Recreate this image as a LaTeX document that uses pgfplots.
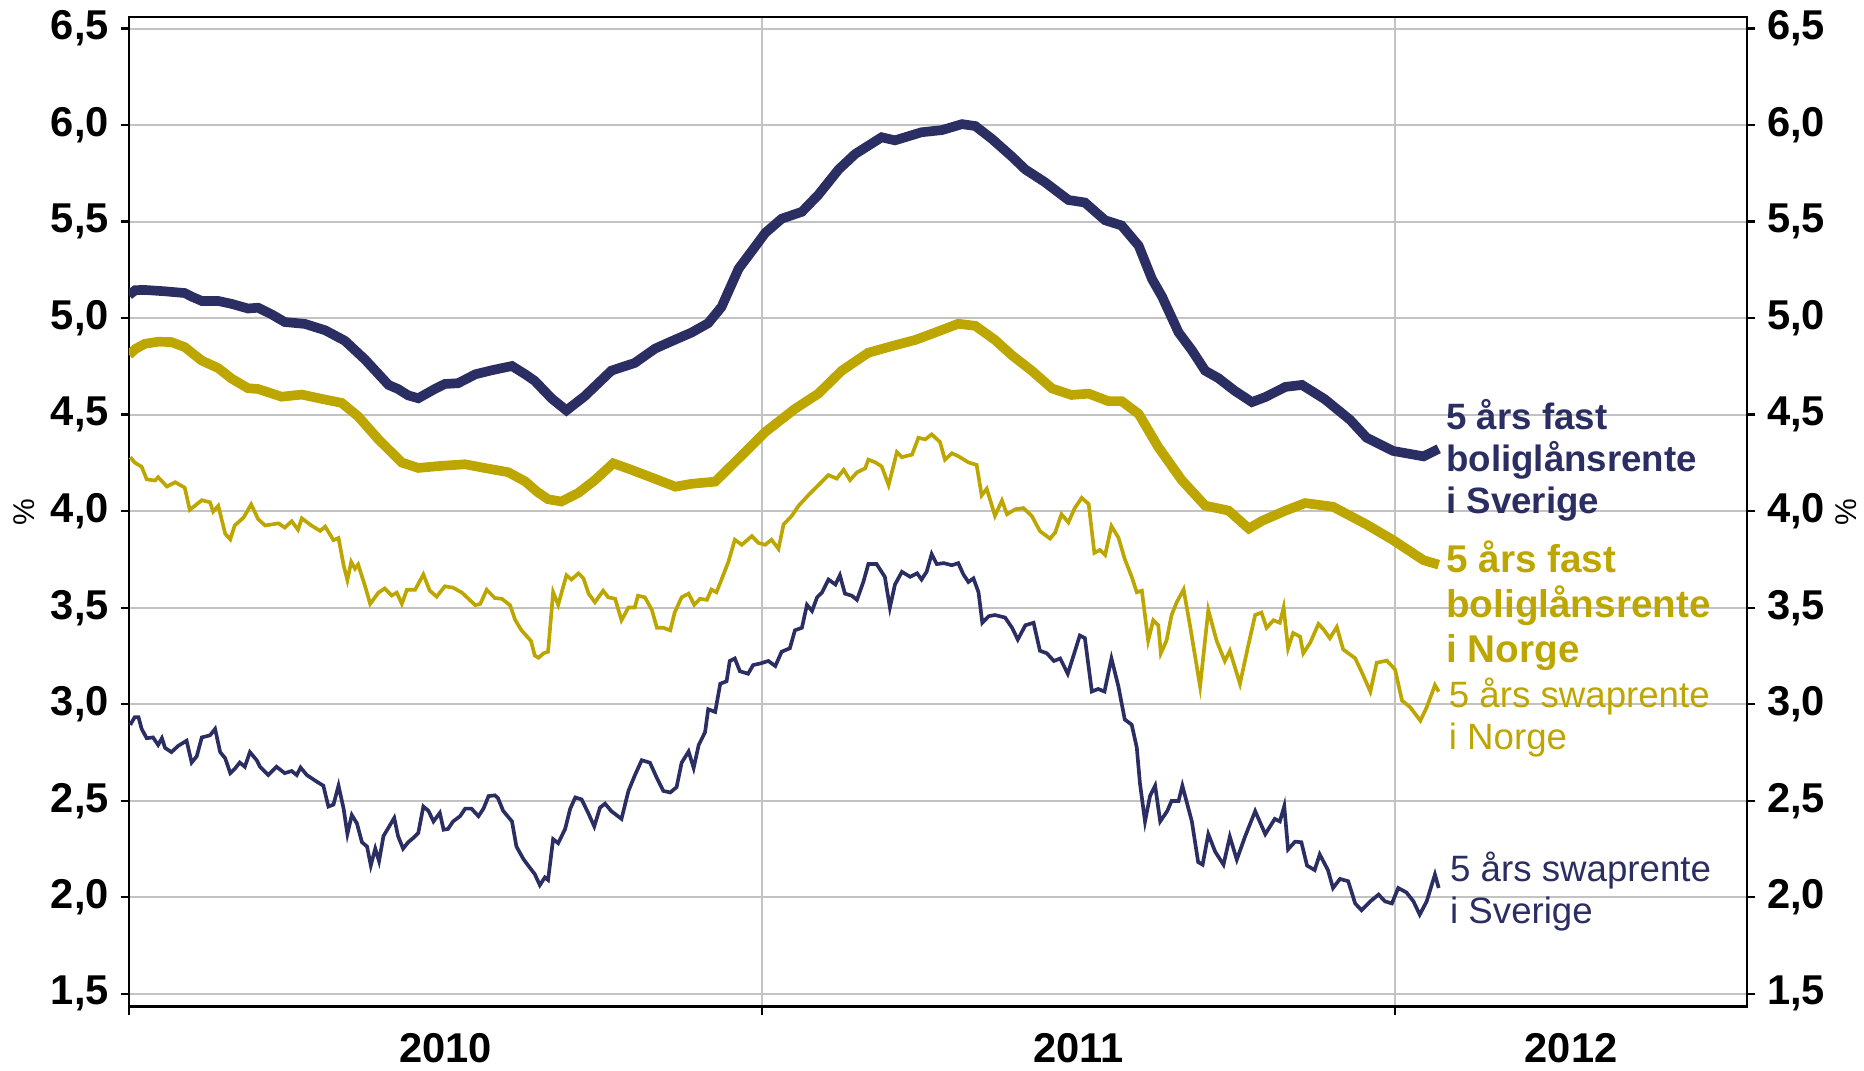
\documentclass[border=0pt]{standalone}
\usepackage{fontspec}
\setmainfont{Liberation Sans}
\usepackage{pgfplots}
\usepackage{pgfplotstable}
\pgfplotsset{compat=1.18}

\definecolor{navy}{RGB}{43,46,98}
\definecolor{gold}{RGB}{190,166,0}
\definecolor{gridgray}{RGB}{195,195,195}

% 5 års fast boliglånsrente i Sverige
\pgfplotstableread{
x y
2010.000 5.12
2010.010 5.145
2010.025 5.146
2010.057 5.139
2010.088 5.13
2010.100 5.11
2010.115 5.089
2010.141 5.089
2010.162 5.074
2010.188 5.05
2010.204 5.054
2010.225 5.02
2010.246 4.98
2010.278 4.97
2010.310 4.937
2010.341 4.883
2010.373 4.785
2010.410 4.654
2010.425 4.633
2010.441 4.60
2010.457 4.585
2010.483 4.633
2010.499 4.659
2010.520 4.663
2010.547 4.709
2010.573 4.73
2010.605 4.752
2010.626 4.709
2010.641 4.675
2010.668 4.583
2010.691 4.522
2010.720 4.596
2010.762 4.728
2010.799 4.768
2010.831 4.842
2010.852 4.873
2010.889 4.926
2010.915 4.974
2010.936 5.058
2010.963 5.256
2010.984 5.348
2011.005 5.441
2011.031 5.515
2011.063 5.551
2011.089 5.639
2011.121 5.77
2011.147 5.85
2011.189 5.937
2011.210 5.921
2011.252 5.963
2011.284 5.974
2011.316 6.005
2011.337 5.995
2011.363 5.929
2011.395 5.836
2011.416 5.77
2011.447 5.704
2011.484 5.612
2011.510 5.599
2011.542 5.507
2011.568 5.48
2011.595 5.375
2011.616 5.203
2011.632 5.111
2011.658 4.926
2011.679 4.834
2011.700 4.728
2011.721 4.689
2011.747 4.623
2011.774 4.565
2011.795 4.591
2011.827 4.644
2011.853 4.654
2011.889 4.58
2011.929 4.473
2011.955 4.381
2011.997 4.312
2012.045 4.284
2012.069 4.323
}\semort

% 5 års fast boliglånsrente i Norge
\pgfplotstableread{
x y
2010.000 4.81
2010.010 4.84
2010.025 4.867
2010.046 4.878
2010.067 4.876
2010.088 4.85
2010.115 4.78
2010.141 4.741
2010.162 4.687
2010.188 4.637
2010.204 4.633
2010.241 4.593
2010.273 4.604
2010.310 4.578
2010.336 4.561
2010.362 4.491
2010.394 4.372
2010.431 4.252
2010.457 4.224
2010.494 4.235
2010.531 4.243
2010.568 4.22
2010.599 4.202
2010.626 4.154
2010.645 4.10
2010.662 4.062
2010.683 4.05
2010.710 4.095
2010.736 4.161
2010.765 4.248
2010.794 4.214
2010.826 4.174
2010.863 4.127
2010.889 4.142
2010.926 4.153
2010.957 4.253
2011.005 4.41
2011.052 4.53
2011.089 4.609
2011.126 4.728
2011.168 4.821
2011.205 4.855
2011.242 4.887
2011.274 4.926
2011.310 4.971
2011.337 4.96
2011.368 4.887
2011.395 4.807
2011.426 4.728
2011.458 4.636
2011.489 4.602
2011.516 4.609
2011.547 4.57
2011.568 4.57
2011.595 4.504
2011.626 4.332
2011.663 4.161
2011.700 4.029
2011.737 4.003
2011.769 3.91
2011.790 3.95
2011.827 4.003
2011.858 4.042
2011.902 4.023
2011.955 3.931
2011.997 3.85
2012.045 3.746
2012.069 3.723
}\nomort

% 5 års swaprente i Norge
\pgfplotstableread{
x y
2010.002 4.28
2010.009 4.252
2010.020 4.23
2010.028 4.165
2010.041 4.159
2010.046 4.176
2010.060 4.128
2010.073 4.15
2010.088 4.122
2010.096 4.007
2010.115 4.057
2010.128 4.046
2010.133 3.998
2010.141 4.028
2010.152 3.883
2010.160 3.854
2010.167 3.926
2010.181 3.967
2010.193 4.035
2010.204 3.959
2010.215 3.926
2010.236 3.937
2010.246 3.915
2010.257 3.948
2010.267 3.904
2010.273 3.963
2010.288 3.926
2010.302 3.898
2010.310 3.92
2010.323 3.85
2010.331 3.861
2010.339 3.72
2010.345 3.643
2010.351 3.737
2010.357 3.702
2010.362 3.724
2010.373 3.611
2010.381 3.52
2010.394 3.578
2010.404 3.60
2010.415 3.563
2010.423 3.578
2010.431 3.52
2010.439 3.593
2010.452 3.593
2010.465 3.672
2010.475 3.589
2010.486 3.557
2010.499 3.611
2010.512 3.604
2010.526 3.578
2010.547 3.513
2010.555 3.52
2010.565 3.593
2010.578 3.55
2010.589 3.546
2010.602 3.513
2010.610 3.437
2010.620 3.383
2010.628 3.354
2010.635 3.328
2010.641 3.252
2010.647 3.241
2010.655 3.264
2010.662 3.272
2010.670 3.58
2010.678 3.515
2010.691 3.668
2010.699 3.646
2010.710 3.678
2010.718 3.652
2010.726 3.573
2010.736 3.528
2010.749 3.588
2010.757 3.554
2010.768 3.546
2010.778 3.435
2010.789 3.501
2010.799 3.501
2010.804 3.562
2010.815 3.554
2010.826 3.488
2010.834 3.396
2010.844 3.396
2010.855 3.383
2010.862 3.475
2010.873 3.554
2010.884 3.573
2010.893 3.515
2010.902 3.546
2010.913 3.541
2010.920 3.594
2010.928 3.58
2010.936 3.646
2010.947 3.739
2010.957 3.852
2010.968 3.826
2010.984 3.871
2010.994 3.836
2011.005 3.826
2011.015 3.852
2011.026 3.805
2011.034 3.931
2011.047 3.976
2011.058 4.029
2011.073 4.082
2011.089 4.135
2011.105 4.187
2011.118 4.169
2011.129 4.214
2011.139 4.161
2011.150 4.201
2011.163 4.222
2011.168 4.267
2011.179 4.253
2011.189 4.232
2011.200 4.135
2011.213 4.306
2011.221 4.28
2011.237 4.293
2011.247 4.38
2011.258 4.372
2011.268 4.398
2011.281 4.359
2011.289 4.267
2011.300 4.30
2011.310 4.285
2011.326 4.253
2011.339 4.24
2011.347 4.082
2011.355 4.116
2011.368 3.976
2011.379 4.055
2011.387 3.984
2011.400 4.01
2011.413 4.016
2011.426 3.976
2011.439 3.897
2011.455 3.858
2011.463 3.889
2011.473 3.984
2011.484 3.942
2011.494 4.016
2011.505 4.069
2011.516 4.037
2011.525 3.784
2011.534 3.799
2011.542 3.773
2011.552 3.923
2011.563 3.863
2011.573 3.752
2011.584 3.66
2011.592 3.58
2011.600 3.588
2011.610 3.33
2011.618 3.435
2011.626 3.409
2011.630 3.264
2011.639 3.33
2011.647 3.462
2011.655 3.528
2011.666 3.594
2011.676 3.409
2011.692 3.092
2011.705 3.488
2011.718 3.33
2011.731 3.224
2011.739 3.277
2011.755 3.106
2011.768 3.303
2011.779 3.462
2011.789 3.475
2011.797 3.396
2011.808 3.435
2011.818 3.422
2011.824 3.501
2011.831 3.29
2011.839 3.369
2011.850 3.35
2011.855 3.264
2011.866 3.319
2011.879 3.416
2011.887 3.388
2011.897 3.342
2011.908 3.40
2011.918 3.284
2011.937 3.238
2011.947 3.169
2011.961 3.065
2011.971 3.215
2011.987 3.226
2012.000 3.18
2012.011 3.019
2012.024 2.984
2012.040 2.915
2012.050 2.984
2012.063 3.099
2012.069 3.065
}\noswap

% 5 års swaprente i Sverige
\pgfplotstableread{
x y
2010.002 2.893
2010.009 2.933
2010.015 2.933
2010.020 2.872
2010.028 2.824
2010.038 2.828
2010.046 2.789
2010.052 2.824
2010.057 2.774
2010.067 2.752
2010.078 2.785
2010.091 2.811
2010.099 2.698
2010.107 2.73
2010.115 2.828
2010.128 2.839
2010.136 2.872
2010.144 2.752
2010.152 2.72
2010.160 2.643
2010.167 2.665
2010.175 2.698
2010.183 2.676
2010.191 2.752
2010.202 2.709
2010.207 2.676
2010.220 2.633
2010.233 2.676
2010.246 2.643
2010.257 2.654
2010.265 2.633
2010.271 2.672
2010.281 2.633
2010.296 2.60
2010.307 2.578
2010.315 2.47
2010.323 2.48
2010.331 2.578
2010.339 2.459
2010.345 2.328
2010.352 2.426
2010.360 2.383
2010.368 2.285
2010.376 2.263
2010.382 2.165
2010.389 2.252
2010.395 2.187
2010.402 2.317
2010.410 2.361
2010.419 2.411
2010.425 2.317
2010.433 2.252
2010.441 2.285
2010.449 2.307
2010.457 2.333
2010.465 2.47
2010.473 2.448
2010.481 2.393
2010.491 2.437
2010.497 2.35
2010.504 2.354
2010.512 2.393
2010.523 2.42
2010.531 2.459
2010.541 2.459
2010.552 2.42
2010.560 2.459
2010.568 2.524
2010.578 2.528
2010.583 2.513
2010.591 2.448
2010.605 2.393
2010.612 2.263
2010.623 2.198
2010.633 2.154
2010.641 2.12
2010.649 2.063
2010.657 2.103
2010.662 2.09
2010.670 2.301
2010.678 2.28
2010.689 2.354
2010.697 2.459
2010.705 2.517
2010.715 2.507
2010.726 2.433
2010.735 2.367
2010.744 2.464
2010.752 2.485
2010.762 2.446
2010.778 2.406
2010.789 2.551
2010.799 2.631
2010.810 2.71
2010.823 2.697
2010.834 2.617
2010.844 2.551
2010.855 2.543
2010.865 2.57
2010.873 2.697
2010.884 2.755
2010.892 2.67
2010.900 2.789
2010.910 2.855
2010.915 2.974
2010.926 2.96
2010.934 3.106
2010.944 3.119
2010.949 3.224
2010.957 3.237
2010.965 3.171
2010.978 3.158
2010.986 3.203
2010.997 3.211
2011.010 3.224
2011.021 3.198
2011.031 3.272
2011.044 3.29
2011.052 3.383
2011.063 3.396
2011.071 3.515
2011.079 3.483
2011.087 3.554
2011.095 3.58
2011.105 3.646
2011.116 3.62
2011.123 3.668
2011.131 3.573
2011.142 3.562
2011.150 3.541
2011.160 3.633
2011.168 3.726
2011.181 3.726
2011.194 3.66
2011.202 3.501
2011.210 3.62
2011.221 3.686
2011.234 3.66
2011.245 3.678
2011.252 3.646
2011.260 3.686
2011.268 3.778
2011.276 3.726
2011.287 3.731
2011.300 3.72
2011.310 3.731
2011.318 3.673
2011.326 3.633
2011.334 3.652
2011.342 3.58
2011.348 3.422
2011.358 3.456
2011.368 3.462
2011.384 3.449
2011.395 3.396
2011.404 3.335
2011.416 3.409
2011.429 3.422
2011.439 3.277
2011.450 3.264
2011.461 3.224
2011.471 3.237
2011.483 3.158
2011.492 3.251
2011.502 3.356
2011.510 3.343
2011.521 3.066
2011.531 3.079
2011.541 3.066
2011.552 3.237
2011.563 3.092
2011.573 2.921
2011.584 2.894
2011.592 2.776
2011.597 2.591
2011.605 2.393
2011.613 2.525
2011.621 2.578
2011.629 2.393
2011.640 2.446
2011.647 2.499
2011.658 2.499
2011.664 2.578
2011.679 2.393
2011.689 2.182
2011.696 2.169
2011.705 2.327
2011.716 2.235
2011.729 2.169
2011.739 2.314
2011.750 2.195
2011.763 2.314
2011.779 2.446
2011.795 2.327
2011.810 2.406
2011.818 2.393
2011.825 2.472
2011.831 2.248
2011.842 2.288
2011.852 2.285
2011.861 2.164
2011.873 2.141
2011.881 2.222
2011.894 2.141
2011.902 2.048
2011.913 2.095
2011.926 2.083
2011.937 1.968
2011.947 1.933
2011.961 1.979
2011.974 2.014
2011.984 1.979
2011.995 1.968
2012.005 2.048
2012.018 2.025
2012.029 1.979
2012.039 1.91
2012.050 1.979
2012.063 2.118
2012.069 2.048
}\seswap

\begin{document}
\begin{tikzpicture}
\pgfplotsset{
  base/.style={
    scale only axis, width=485.4pt, height=296.8pt,
    xmin=2010, xmax=2012.556, ymin=1.435, ymax=6.56,
    ytick={1.5,2.0,2.5,3.0,3.5,4.0,4.5,5.0,5.5,6.0,6.5},
    tick align=outside, major tick length=2.5pt,
    tick style={black, line width=0.7pt},
    yticklabel style={font=\bfseries\fontsize{12.5}{12.5}\selectfont},
    ylabel={\%},
    y label style={font=\fontsize{9}{9}\selectfont},
    /pgf/number format/.cd, use comma, fixed, fixed zerofill, precision=1,
      assume math mode=true,
    /pgfplots/.cd,
  }
}
\begin{axis}[base, name=ax,
  axis line style={black, line width=0.7pt},
  xtick={2010,2011,2012}, xticklabels={},
  xtick pos=bottom, ytick pos=left,
  xmajorgrids, ymajorgrids,
  grid style={gridgray, line width=0.6pt},
  extra x ticks={2010.5,2011.5,2012.278},
  extra x tick labels={2010,2011,2012},
  extra x tick style={major tick length=0pt, grid=none,
    tick label style={font=\bfseries\fontsize{12.5}{12.5}\selectfont, yshift=-4.5pt}},
  y label style={at={(axis description cs:-0.065,0.5)}, anchor=center},
]
\addplot[navy, line width=1.1pt] table {\seswap};
\addplot[gold, line width=1.1pt] table {\noswap};
\addplot[gold, line width=2.9pt] table {\nomort};
\addplot[navy, line width=2.9pt] table {\semort};

\node[anchor=west, align=left, inner sep=0pt, text=navy,
  font=\bfseries\fontsize{11}{12.5}\selectfont]
  at (axis cs:2012.08,4.264) {5 års fast\\boliglånsrente\\i Sverige};
\node[anchor=west, align=left, inner sep=0pt, text=gold,
  font=\bfseries\fontsize{11.6}{13.6}\selectfont]
  at (axis cs:2012.08,3.51) {5 års fast\\boliglånsrente\\i Norge};
\node[anchor=west, align=left, inner sep=0pt, text=gold,
  font=\fontsize{11}{12.5}\selectfont]
  at (axis cs:2012.084,2.93) {5 års swaprente\\i Norge};
\node[anchor=west, align=left, inner sep=0pt, text=navy,
  font=\fontsize{11}{12.5}\selectfont]
  at (axis cs:2012.086,2.03) {5 års swaprente\\i Sverige};
\end{axis}

\begin{axis}[base,
  axis x line=none, axis y line*=right, ytick pos=right,
  axis line style={black, line width=0.7pt},
  y label style={at={(axis description cs:1.061,0.5)}, anchor=center},
]
\end{axis}

\pgfresetboundingbox
\path ([xshift=-38.7pt,yshift=-19.3pt]ax.south west)
  rectangle ([xshift=35.1pt,yshift=5.1pt]ax.north east);
\end{tikzpicture}
\end{document}
